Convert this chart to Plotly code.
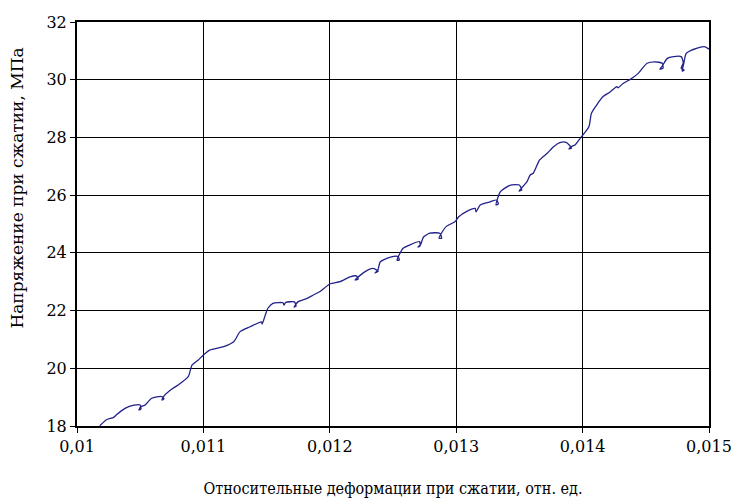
import plotly.graph_objects as go

# strain (rel. units) and stress (MPa), including the small unloading hooks
strain = [
    0.01018, 0.01023, 0.01029, 0.01031, 0.01038, 0.01045, 0.01050, 0.010506, 0.01049, 0.010502,
    0.01054, 0.01059, 0.01067, 0.010688, 0.010672, 0.01069, 0.01074, 0.01080, 0.01088, 0.01091,
    0.01096, 0.01100, 0.01105, 0.01116, 0.01124, 0.01129, 0.01137, 0.01146, 0.011465, 0.01149,
    0.01151, 0.01155, 0.01163, 0.011638, 0.01165, 0.01172, 0.011733, 0.011717, 0.01175, 0.01182,
    0.01187, 0.01192, 0.01200, 0.01208, 0.01216, 0.01221, 0.012225, 0.012199, 0.012215, 0.01228,
    0.01234, 0.012384, 0.012358, 0.01238, 0.01240, 0.01248, 0.01254, 0.012550, 0.012532, 0.01258,
    0.01263, 0.01271, 0.012714, 0.012698, 0.01272, 0.01274, 0.01279, 0.01287, 0.012885, 0.012864,
    0.01292, 0.01299, 0.01302, 0.01308, 0.01315, 0.013157, 0.01319, 0.01327, 0.01332, 0.013333,
    0.013315, 0.01335, 0.01343, 0.01350, 0.013518, 0.013497, 0.01356, 0.013585, 0.01361, 0.01366,
    0.01372, 0.01377, 0.01382, 0.01387, 0.013913, 0.013892, 0.01391, 0.01394, 0.01399, 0.01405,
    0.01407, 0.01412, 0.01416, 0.01422, 0.01427, 0.01428, 0.01432, 0.01438, 0.01444, 0.01451,
    0.01457, 0.01463, 0.014636, 0.014612, 0.01463, 0.01467, 0.01472, 0.01478, 0.014796, 0.014780,
    0.014804, 0.014788, 0.01480, 0.01482, 0.01490, 0.01497, 0.01500,
]
stress = [
    18.01, 18.21, 18.30, 18.38, 18.61, 18.72, 18.73, 18.59, 18.55, 18.66,
    18.73, 18.96, 19.02, 18.94, 18.90, 19.05, 19.25, 19.42, 19.71, 20.11,
    20.29, 20.46, 20.63, 20.75, 20.92, 21.27, 21.44, 21.61, 21.53, 21.85,
    22.08, 22.25, 22.27, 22.19, 22.28, 22.30, 22.16, 22.12, 22.31, 22.42,
    22.54, 22.65, 22.92, 23.00, 23.17, 23.20, 23.09, 23.06, 23.13, 23.35,
    23.46, 23.37, 23.30, 23.40, 23.69, 23.85, 23.87, 23.75, 23.75, 24.16,
    24.27, 24.39, 24.24, 24.20, 24.30, 24.54, 24.68, 24.68, 24.51, 24.51,
    24.91, 25.08, 25.25, 25.43, 25.54, 25.42, 25.66, 25.77, 25.83, 25.69,
    25.66, 26.12, 26.35, 26.35, 26.18, 26.14, 26.47, 26.70, 26.76, 27.22,
    27.45, 27.68, 27.82, 27.83, 27.63, 27.60, 27.68, 27.74, 28.02, 28.37,
    28.84, 29.18, 29.41, 29.58, 29.76, 29.72, 29.87, 30.02, 30.22, 30.57,
    30.62, 30.57, 30.40, 30.37, 30.47, 30.74, 30.80, 30.80, 30.58, 30.40,
    30.34, 30.30, 30.55, 30.91, 31.09, 31.14, 31.06,
]

x_ticks = [0.010, 0.011, 0.012, 0.013, 0.014, 0.015]
x_tick_labels = ["0,01", "0,011", "0,012", "0,013", "0,014", "0,015"]
y_ticks = [18, 20, 22, 24, 26, 28, 30, 32]

FONT = "DejaVu Serif"
TITLE_FONT = "DejaVu Serif Condensed, DejaVu Serif"

fig = go.Figure()
fig.add_trace(go.Scatter(
    x=strain, y=stress,
    mode="lines",
    line=dict(color="#22228a", width=1.3, shape="spline", smoothing=0.6),
    showlegend=False,
))

fig.update_xaxes(
    range=[0.010, 0.015],
    tickvals=x_ticks, ticktext=x_tick_labels,
    showgrid=True, gridcolor="black", gridwidth=1,
    showline=True, linecolor="black", linewidth=2, mirror=True,
    ticks="outside", ticklen=5, tickcolor="black",
    tickfont=dict(family=FONT, size=16, color="black"),
    title=dict(text="Относительные деформации при сжатии, отн. ед.",
               font=dict(family=TITLE_FONT, size=16, color="black"), standoff=28),
    zeroline=False, automargin=False,
)
fig.update_yaxes(
    range=[18, 32],
    tickvals=y_ticks,
    showgrid=True, gridcolor="black", gridwidth=1,
    showline=True, linecolor="black", linewidth=2, mirror=True,
    ticks="outside", ticklen=5, tickcolor="black",
    tickfont=dict(family=FONT, size=16, color="black"),
    zeroline=False, automargin=False,
)

# y title sits above the plot centre in the original, so place it by hand
fig.add_annotation(
    text="Напряжение при сжатии, МПа",
    xref="paper", yref="paper", x=-0.095, y=0.59,
    xanchor="center", yanchor="middle",
    textangle=-90, showarrow=False,
    font=dict(family=FONT, size=17, color="black"),
)

# page body has an 8px margin, so the figure is shrunk by that much
fig.update_layout(
    width=731, height=496,
    margin=dict(l=69, r=30, t=14, b=78),
    plot_bgcolor="white", paper_bgcolor="white",
    font=dict(family=FONT, color="black"),
)

fig.write_html("out.html")
